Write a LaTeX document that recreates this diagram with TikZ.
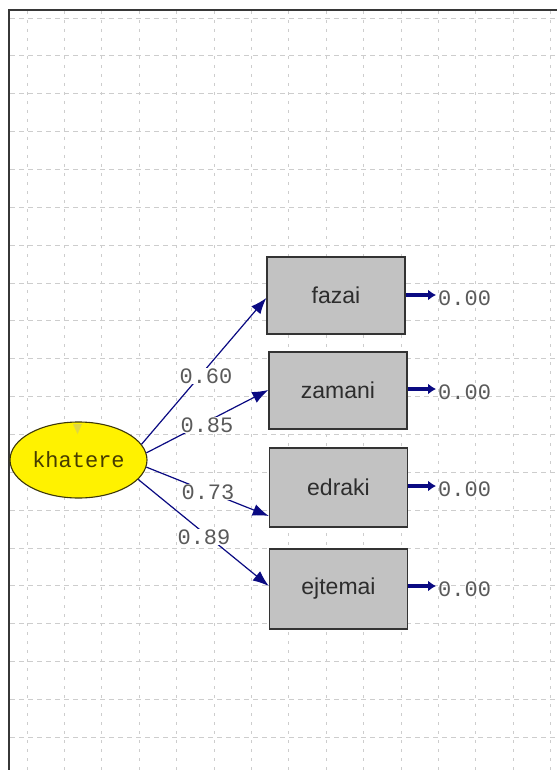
\documentclass[tikz,border=0pt]{standalone}
\usepackage{fontspec}
\setmainfont{Liberation Sans}
\newfontfamily\monofont{Liberation Mono}
\usetikzlibrary{arrows.meta,shapes.geometric}
\definecolor{navyline}{RGB}{10,10,130}
\definecolor{boxgray}{RGB}{194,194,194}
\definecolor{boxtext}{RGB}{45,45,45}
\definecolor{lattext}{RGB}{70,60,0}
\definecolor{latborder}{RGB}{60,55,10}
\definecolor{numtext}{RGB}{90,90,90}
\definecolor{gridc}{RGB}{205,205,205}
\definecolor{framec}{RGB}{55,55,55}
\tikzset{
  obsbox/.style={draw=black!80, line width=1.4pt, fill=boxgray, minimum width=138pt, minimum height=77pt, inner sep=0pt, font=\fontsize{23}{25}\selectfont, text=boxtext},
  latent/.style={ellipse, draw=latborder, line width=1.1pt, fill=yellow, minimum width=137pt, minimum height=76pt, inner sep=0pt, font=\monofont\fontsize{22}{24}\selectfont, text=lattext},
  coef/.style={fill=white, inner sep=1pt, font=\monofont\fontsize{22}{24}\selectfont, text=numtext},
  errlab/.style={inner sep=0pt, anchor=west, font=\monofont\fontsize{22}{24}\selectfont, text=numtext},
  pathline/.style={draw=navyline, line width=1.2pt, -{Latex[length=16pt,width=12pt]}},
  errarrow/.style={draw=navyline, line width=3.5pt, -{Latex[length=8pt,width=11pt]}},
  hgrid/.style={draw=gridc, line width=0.8pt, dash pattern=on 5pt off 4pt},
  vgrid/.style={draw=gridc, line width=0.7pt, dash pattern=on 3pt off 6pt}
}
\begin{document}
\begin{tikzpicture}[x=1pt,y=-1pt]
\useasboundingbox (0,0) rectangle (557,770);
\fill[white] (0,0) rectangle (557,770);
% grid
\foreach \k in {0,...,19} {\draw[hgrid] (10,18+37.85*\k) -- (557,18+37.85*\k);}
\foreach \k in {0,...,14} {\draw[vgrid] (27+37.4*\k,11) -- (27+37.4*\k,770);}
% frame
\draw[framec, line width=1.5pt] (9,770) -- (9,10) -- (557,10);
% nodes
\node[latent] (khatere) at (78.5,460) {khatere};
\fill[yellow!60!olive!70] (73,424) -- (82,424) -- (77.5,434) -- cycle;
\node[obsbox] (fazai) at (336,295.5) {fazai};
\node[obsbox] (zamani) at (338,390.5) {zamani};
\node[obsbox, minimum height=79pt] (edraki) at (338.5,487.5) {edraki};
\node[obsbox, minimum height=80pt] (ejtemai) at (338.5,589) {ejtemai};
% end points on boxes
\coordinate (fin) at (fazai.west |- 0,298);
\coordinate (zin) at (zamani.west |- 0,390);
\coordinate (ein) at (edraki.west |- 0,516);
\coordinate (jin) at (ejtemai.west |- 0,586);
% paths
\draw[pathline] (khatere.14) -- (fin);
\draw[pathline] (khatere.6) -- (zin);
\draw[pathline] (khatere.-6) -- (ein);
\draw[pathline] (khatere.-18) -- (jin);
\node[coef] (c1) at (206,376) {0.60};
\node[coef] (c2) at (207,425) {0.85};
\node[coef] (c3) at (208,492) {0.73};
\node[coef] (c4) at (204,537) {0.89};
% residual arrows and labels
\coordinate (fr) at (436,295);
\coordinate (zr) at (436,389);
\coordinate (er) at (436,486);
\coordinate (jr) at (436,586);
\draw[errarrow] (fazai.east |- fr) -- (fr);
\draw[errarrow] (zamani.east |- zr) -- (zr);
\draw[errarrow] (edraki.east |- er) -- (er);
\draw[errarrow] (ejtemai.east |- jr) -- (jr);
\node[errlab] (f0) at (438,298) {0.00};
\node[errlab] (z0) at (438,392) {0.00};
\node[errlab] (e0) at (438,489) {0.00};
\node[errlab] (j0) at (438,589) {0.00};
\end{tikzpicture}
\end{document}
